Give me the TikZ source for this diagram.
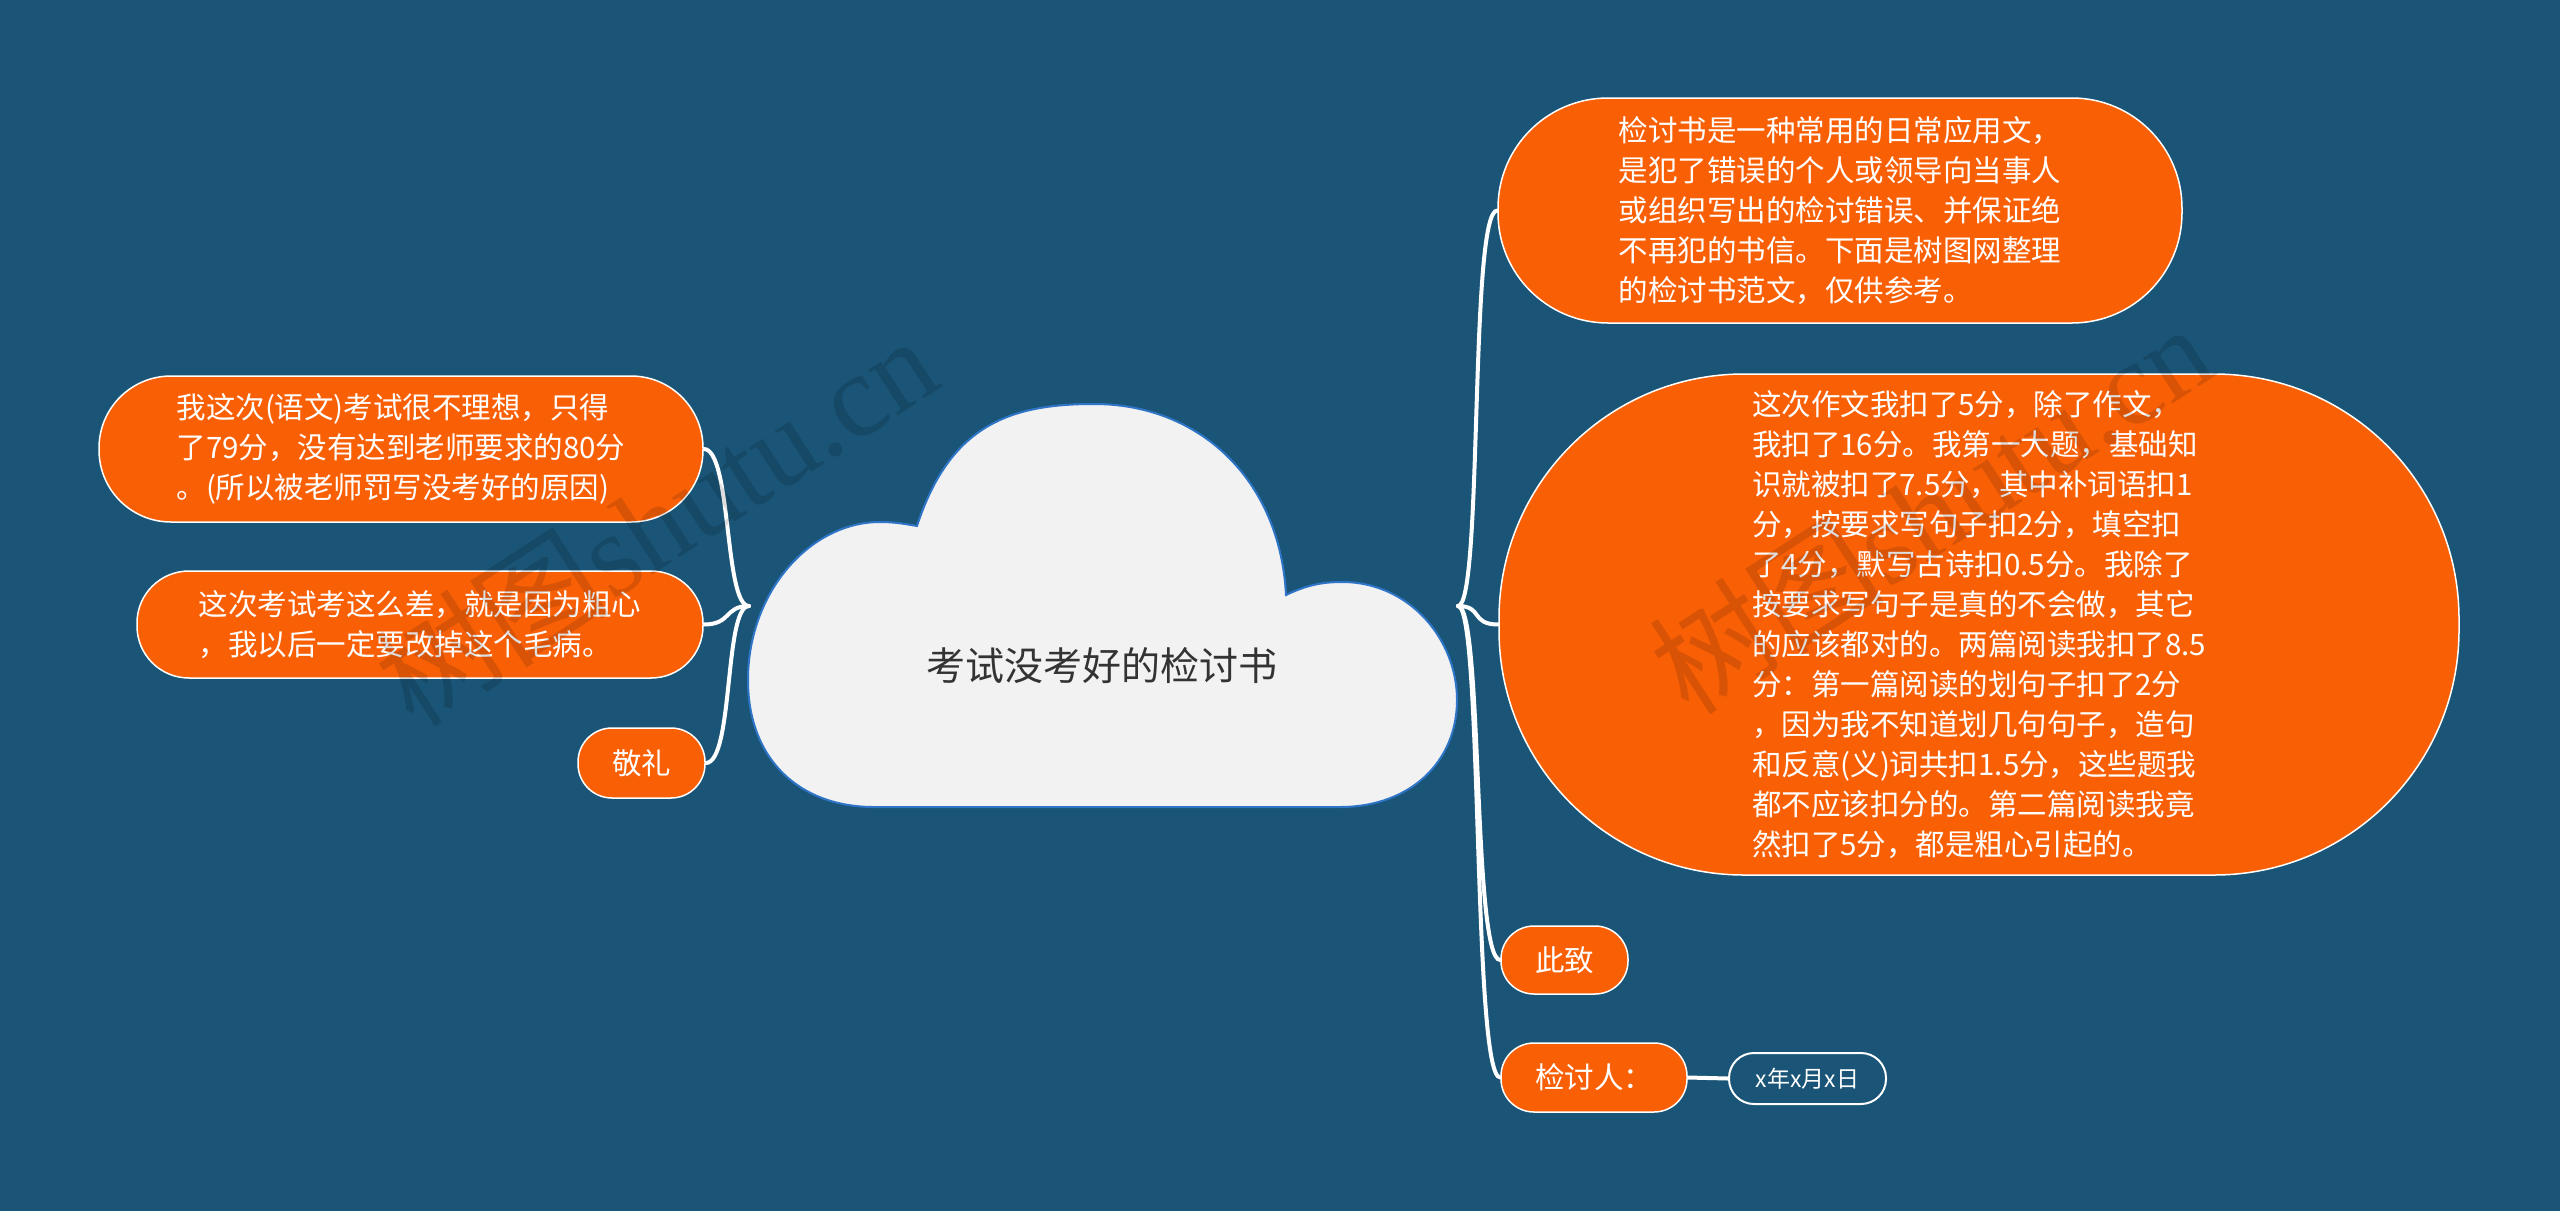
\documentclass[tikz,border=0pt]{standalone}
\usepackage{fontspec}
\setmainfont{Noto Sans CJK SC}
\newfontfamily\wmserif{Liberation Serif}
\definecolor{bgblue}{RGB}{26,84,118}
\definecolor{org}{RGB}{249,96,6}
\definecolor{cloudfill}{RGB}{242,242,242}
\definecolor{cloudline}{RGB}{46,117,200}
\definecolor{ttl}{RGB}{51,51,51}
\pgfdeclarelayer{back}
\pgfsetlayers{back,main}
\begin{document}
\begin{tikzpicture}[x=1pt,y=-1pt,
  box/.style={draw=white, line width=1.5pt, fill=org, text=white, align=left,
    inner sep=0pt, font=\fontsize{29.5}{40}\selectfont},
  datebox/.style={draw=white, line width=2pt, fill=bgblue, text=white,
    inner sep=0pt, font=\fontsize{23}{23}\selectfont, rounded corners=25pt,
    minimum width=157pt, minimum height=51pt},
  conn/.style={draw=white, line width=4pt, line cap=round},
  wm/.style={opacity=0.13, text=black, font=\fontsize{118}{118}\selectfont, rotate=33}]
\useasboundingbox (0,0) rectangle (2560,1211);
\begin{pgfonlayer}{back}
\fill[bgblue] (0,0) rectangle (2560,1211);
\end{pgfonlayer}

% cloud
\draw[fill=cloudfill, draw=cloudline, line width=2pt]
  (917,526) .. controls (950,425) and (1010,404) .. (1094,404)
  .. controls (1200,404) and (1280,480) .. (1286,595)
  .. controls (1305,586) and (1320,582) .. (1342,582)
  .. controls (1410,582) and (1457,640) .. (1457,700)
  .. controls (1457,762) and (1410,807) .. (1340,807)
  -- (874,807)
  .. controls (800,807) and (748,760) .. (748,680)
  .. controls (748,592) and (810,522) .. (880,522)
  .. controls (895,522) and (905,524) .. (917,526) -- cycle;
\node[font=\fontsize{39}{39}\selectfont, text=ttl] (title) at (1102,666) {考试没考好的检讨书};
\coordinate (rr) at (1458,606);
\coordinate (lr) at (749,606);

% right nodes
\node[box, minimum width=684pt, minimum height=225pt, rounded corners=110pt] (t1) at (1840,210.5)
  {检讨书是一种常用的日常应用文，\\是犯了错误的个人或领导向当事人\\或组织写出的检讨错误、并保证绝\\不再犯的书信。下面是树图网整理\\的检讨书范文，仅供参考。};
\node[box, minimum width=960pt, minimum height=501pt, rounded corners=245pt] (t2) at (1979,624.5)
  {这次作文我扣了5分，除了作文，\\我扣了16分。我第一大题，基础知\\识就被扣了7.5分，其中补词语扣1\\分，按要求写句子扣2分，填空扣\\了4分，默写古诗扣0.5分。我除了\\按要求写句子是真的不会做，其它\\的应该都对的。两篇阅读我扣了8.5\\分：第一篇阅读的划句子扣了2分\\，因为我不知道划几句句子，造句\\和反意(义)词共扣1.5分，这些题我\\都不应该扣分的。第二篇阅读我竟\\然扣了5分，都是粗心引起的。};
\node[box, minimum width=127pt, minimum height=68pt, rounded corners=33pt] (t3) at (1564.5,960) {此致};
\node[box, minimum width=186pt, minimum height=69pt, rounded corners=33pt] (t4) at (1594,1077.5) {检讨人：};
\node[datebox] (t5) at (1807.5,1078.5) {x年x月x日};

% left nodes
\node[box, minimum width=604pt, minimum height=146pt, rounded corners=72pt] (l1) at (401,449)
  {我这次(语文)考试很不理想，只得\\了79分，没有达到老师要求的80分\\。(所以被老师罚写没考好的原因)};
\node[box, minimum width=566pt, minimum height=107pt, rounded corners=52pt] (l2) at (420,624.5)
  {这次考试考这么差，就是因为粗心\\，我以后一定要改掉这个毛病。};
\node[box, minimum width=127pt, minimum height=70pt, rounded corners=34pt] (l3) at (641.5,763) {敬礼};

% connectors
\begin{pgfonlayer}{back}
\draw[conn] (rr) .. controls +(25,0) and +(-28,0) .. (t1.west);
\draw[conn] (rr) .. controls +(25,0) and +(-28,0) .. (t2.west);
\draw[conn] (rr) .. controls +(25,0) and +(-28,0) .. (t3.west);
\draw[conn] (rr) .. controls +(25,0) and +(-28,0) .. (t4.west);
\draw[conn] (t4.east) -- (t5.west);
\draw[conn] (lr) .. controls +(-25,0) and +(28,0) .. (l1.east);
\draw[conn] (lr) .. controls +(-25,0) and +(28,0) .. (l2.east);
\draw[conn] (lr) .. controls +(-25,0) and +(28,0) .. (l3.east);
\end{pgfonlayer}

% watermarks
\node[wm] (wm1) at (655,520) {树图{\wmserif shutu.cn}};
\node[wm] (wm2) at (1930,508) {树图{\wmserif shutu.cn}};
\end{tikzpicture}
\end{document}
